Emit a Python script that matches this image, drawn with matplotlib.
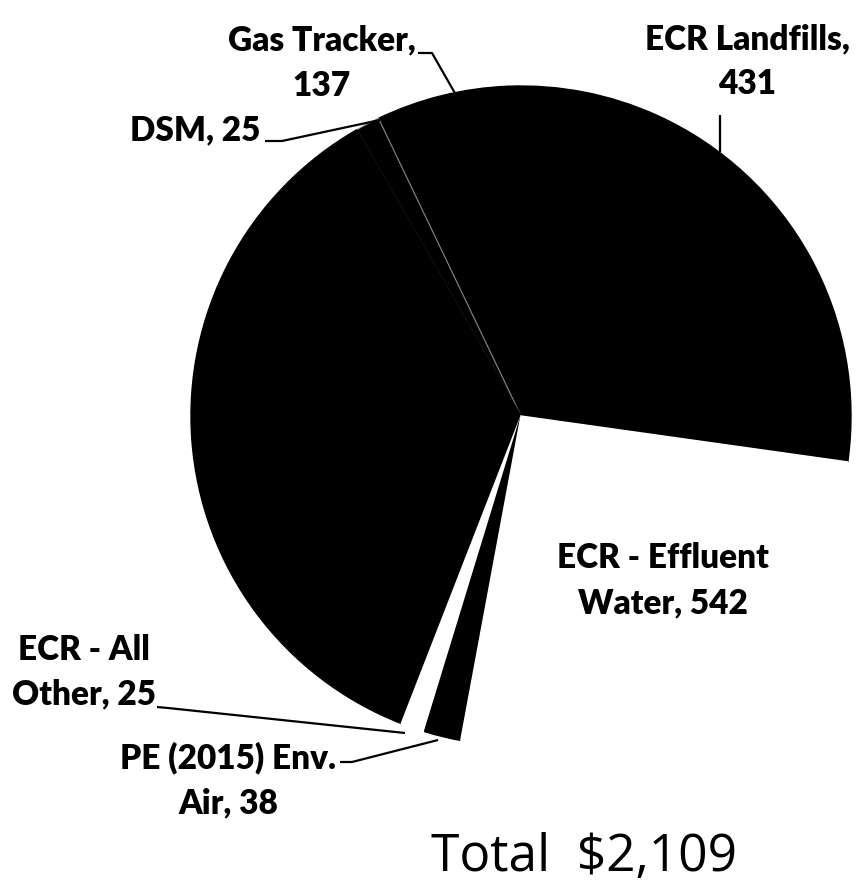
import matplotlib
matplotlib.use("Agg")
import matplotlib.pyplot as plt

# slice values in drawing order (counter-clockwise from the right side)
names = ["ECR Landfills", "unlabeled A", "Gas Tracker", "DSM", "unlabeled B",
         "ECR - All Other", "PE (2015) Env. Air", "ECR - Effluent Water"]
values = [431, 156, 137, 25, 755, 25, 38, 542]
slice_colors = ["black", "black", "black", "black", "black", "white", "black", "white"]
total = 2109

# label texts
label_texts = ["ECR Landfills,\n431", "Gas Tracker,\n137", "DSM, 25",
               "ECR - Effluent\nWater, 542", "ECR - All\nOther, 25", "PE (2015) Env.\nAir, 38"]

W, H = 867, 882
def Y(py):
    return H - py

plt.rcParams['font.family'] = ['Lato', 'DejaVu Sans']

fig = plt.figure(figsize=(W / 100, H / 100), dpi=100)
ax = fig.add_axes([0, 0, 1, 1])

wedges, _ = ax.pie(values, colors=slice_colors, startangle=-8, counterclock=True,
                   center=(521, Y(416)), radius=330)
for w, c in zip(wedges, slice_colors):
    w.set_edgecolor(c)
    w.set_linewidth(1.0)
# thin grey seam visible beside the DSM sliver
wedges[3].set_edgecolor('#8a8a8a')
wedges[3].set_linewidth(0.8)

ax.set_xlim(0, W)
ax.set_ylim(0, H)
ax.axis('off')

lab = dict(fontsize=24, fontweight='heavy', color='black', linespacing=1.5)

ax.text(747, Y(62), label_texts[0], ha='center', va='center', **lab)
ax.text(322, Y(63), label_texts[1], ha='center', va='center', **lab)
ax.text(260, Y(130), label_texts[2], ha='right', va='center', **lab)
ax.text(663, Y(581), label_texts[3], ha='center', va='center', **lab)
ax.text(84, Y(672), label_texts[4], ha='center', va='center', **lab)
ax.text(228, Y(780), label_texts[5], ha='center', va='center', **lab)

ax.text(584, Y(871), "Total  $2,%03d" % (total - 2000), ha='center', va='baseline',
        fontsize=37, color='black', family=['Open Sans', 'DejaVu Sans'])

# leader lines
lk = dict(color='black', lw=1.6, solid_capstyle='butt')
ax.plot([720, 720], [Y(115), Y(152)], **lk)
ax.plot([418, 432, 456], [Y(53), Y(53), Y(95)], **lk)
ax.plot([265, 282, 380], [Y(141), Y(141), Y(120)], **lk)
ax.plot([157, 168, 405], [Y(707), Y(708), Y(733)], **lk)
ax.plot([340, 352, 438], [Y(762), Y(762), Y(740)], **lk)

fig.savefig("out.png", dpi=100)
